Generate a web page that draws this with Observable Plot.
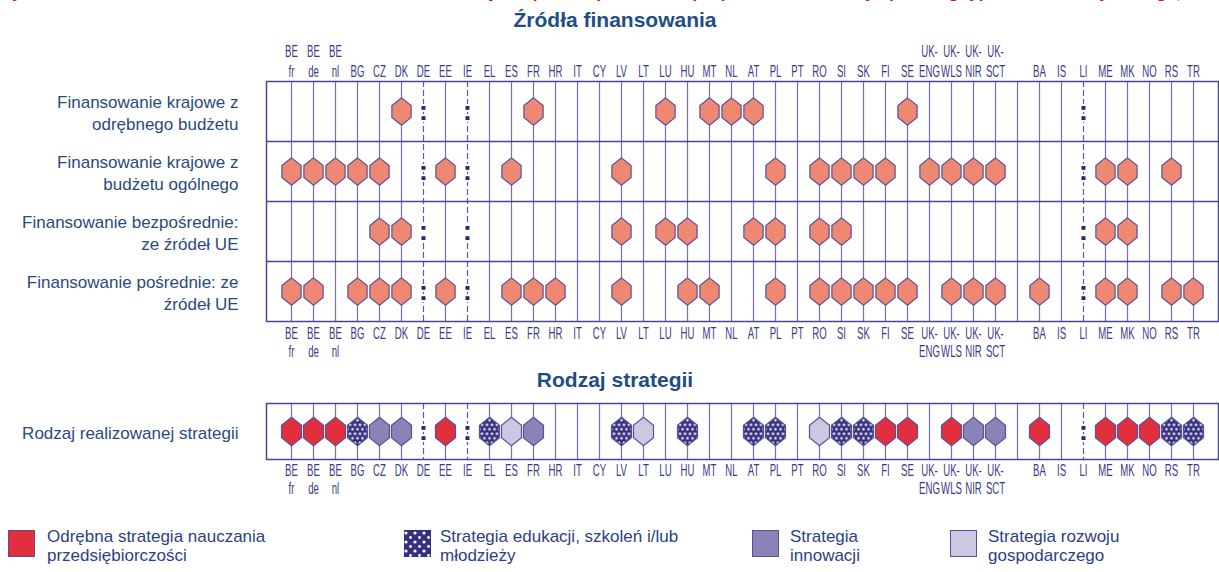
<!DOCTYPE html>
<html>
<head>
<meta charset="utf-8">
<script src="https://cdn.jsdelivr.net/npm/d3@7"></script>
<script src="https://cdn.jsdelivr.net/npm/@observablehq/plot@0.6"></script>
<style>
  html, body { margin: 0; padding: 0; background: #fff; }
  body { width: 1219px; height: 572px; position: relative; overflow: hidden; font-family: "Liberation Sans", Arial, sans-serif; }
  .abs { position: absolute; }
  .head { position: absolute; left: 0; width: 1230px; text-align: center; font-weight: bold; font-size: 21px; color: #1f4d85; }
  .redtitle { position: absolute; left: 0; top: -17px; white-space: nowrap; font-weight: bold; font-size: 17px; line-height: 20px; color: #d0101e; }
  .leg { position: absolute; top: 527px; font-size: 17px; line-height: 19px; color: #2c3f86; }
  .sw { position: absolute; top: 530px; width: 25px; height: 25px; border: 1px solid #5a4f96; }
</style>
</head>
<body>
<svg width="0" height="0" style="position:absolute">
  <defs>
    <pattern id="dots" patternUnits="userSpaceOnUse" width="5" height="9">
      <rect width="5" height="9" fill="#36307f"></rect>
      <circle cx="2.5" cy="2.25" r="1.2" fill="#fff"></circle>
      <circle cx="0" cy="6.75" r="1.2" fill="#fff"></circle>
      <circle cx="5" cy="6.75" r="1.2" fill="#fff"></circle>
    </pattern>
    <pattern id="dotsLegend" patternUnits="userSpaceOnUse" width="9" height="9">
      <rect width="9" height="9" fill="#36307f"></rect>
      <circle cx="2" cy="3" r="1.6" fill="#fff"></circle>
      <circle cx="6.5" cy="7.5" r="1.4" fill="#fff"></circle>
    </pattern>
  </defs>
</svg>
<div class="redtitle">Rysunek 3.4: Źródła finansowania działań w zakresie edukacji dla przedsiębiorczości (na poziomie centralnym) według typu realizowanej strategii, 2014/15</div>
<div class="head" style="top:8px">Źródła finansowania</div>
<div id="top" class="abs" style="top:38px;left:0"></div>
<div class="head" style="top:368px">Rodzaj strategii</div>
<div id="strat" class="abs" style="top:395px;left:0"></div>
<div id="legend"></div>
<script>
// ---------- DATA ----------
const countries = ["BE fr","BE de","BE nl","BG","CZ","DK","DE","EE","IE","EL","ES","FR","HR","IT","CY","LV","LT","LU","HU","MT","NL","AT","PL","PT","RO","SI","SK","FI","SE","UK-ENG","UK-WLS","UK-NIR","UK-SCT","gap","BA","IS","LI","ME","MK","NO","RS","TR"];
const tickLabels = ["BE\nfr","BE\nde","BE\nnl","BG","CZ","DK","DE","EE","IE","EL","ES","FR","HR","IT","CY","LV","LT","LU","HU","MT","NL","AT","PL","PT","RO","SI","SK","FI","SE","UK-\nENG","UK-\nWLS","UK-\nNIR","UK-\nSCT","","BA","IS","LI","ME","MK","NO","RS","TR"];
const notAvailable = ["DE","IE","LI"];

const fundingRows = [
  "Finansowanie krajowe z\nodrębnego budżetu",
  "Finansowanie krajowe z\nbudżetu ogólnego",
  "Finansowanie bezpośrednie:\nze źródeł UE",
  "Finansowanie pośrednie: ze\nźródeł UE"
];
const separateBudget = ["DK","FR","LU","MT","NL","AT","SE"];
const generalBudget = ["BE fr","BE de","BE nl","BG","CZ","EE","ES","LV","PL","RO","SI","SK","FI","UK-ENG","UK-WLS","UK-NIR","UK-SCT","ME","MK","RS"];
const euDirect = ["CZ","DK","LV","LU","HU","AT","PL","RO","SI","ME","MK"];
const euIndirect = ["BE fr","BE de","BG","CZ","DK","EE","ES","FR","HR","LV","HU","MT","PL","RO","SI","SK","FI","SE","UK-WLS","UK-NIR","UK-SCT","BA","ME","MK","RS","TR"];

const strategyRows = ["Rodzaj realizowanej strategii"];
const strategyTypes = [
  "Odrębna strategia nauczania przedsiębiorczości",
  "Strategia edukacji, szkoleń i/lub młodzieży",
  "Strategia innowacji",
  "Strategia rozwoju gospodarczego"
];
const legendLabels = [
  "Odrębna strategia nauczania<br>przedsiębiorczości",
  "Strategia edukacji, szkoleń i/lub<br>młodzieży",
  "Strategia<br>innowacji",
  "Strategia rozwoju<br>gospodarczego"
];
const strategyCountries = ["BE fr","BE de","BE nl","BG","CZ","DK","EE","EL","ES","FR","LV","LT","HU","AT","PL","RO","SI","SK","FI","SE","UK-WLS","UK-NIR","UK-SCT","BA","ME","MK","NO","RS","TR"];
const strategyTypeIndex = [0,0,0,1,2,2,0,1,3,2,1,3,1,1,1,3,1,1,0,0,0,2,2,0,0,0,0,1,1];

// ---------- STYLE ----------
const strategyFills = ["#e12f3d", "url(#dots)", "#8b82b8", "#cec7e1"];
const legendFills = ["#e12f3d", "url(#dotsLegend)", "#8b82b8", "#cec7e1"];
const salmon = "#ee8873";
const hexStroke = "#5a4f99";
const lineColor = "#5f57a2";
const frameColor = "#4d4592";
const tickColor = "#3b3889";
const rowLabelColor = "#2b4a7c";
const tickFont = "'Liberation Sans', Arial, sans-serif";

const hexagon = {
  draw(context, size) {
    const r = Math.sqrt(size / Math.PI);
    const hw = r, hh = r * 1.42, sh = r * 0.62;
    context.moveTo(0, -hh);
    context.lineTo(hw, -sh);
    context.lineTo(hw, sh);
    context.lineTo(0, hh);
    context.lineTo(-hw, sh);
    context.lineTo(-hw, -sh);
    context.closePath();
  }
};

const fmtX = d => tickLabels[countries.indexOf(d)];
const solidCols = countries.filter(c => !notAvailable.includes(c));

function gridMarks(rows, hexData, hexR, fillSpec) {
  const naCells = rows.flatMap((_, i) => notAvailable.map(c => ({country: c, row: i})));
  return [
    Plot.ruleX(solidCols, {x: d => d, stroke: lineColor, strokeWidth: 1.2, strokeOpacity: 0.85}),
    Plot.ruleX(notAvailable, {x: d => d, stroke: lineColor, strokeWidth: 1.2, strokeDasharray: "6,3"}),
    Plot.ruleY(d3.range(1, rows.length), {stroke: frameColor, strokeWidth: 1.3}),
    Plot.frame({stroke: frameColor, strokeWidth: 1.5}),
    Plot.text(naCells, {x: "country", y: d => d.row + 0.5, text: () => ":", fontSize: 28, fontWeight: "bold", fill: "#2a2676", stroke: "white", strokeWidth: 4, paintOrder: "stroke"}),
    Plot.dot(hexData, {x: "country", y: d => d.row + 0.5, symbol: hexagon, r: hexR, fill: fillSpec, stroke: hexStroke, strokeWidth: 1.2}),
    Plot.axisY({ticks: rows.map((_, i) => i + 0.5), tickFormat: v => rows[Math.floor(v)], tickSize: 0, tickPadding: 28, fontSize: 17, lineHeight: 1.3, fill: rowLabelColor, label: null})
  ];
}

// narrow the country labels so they fit in their columns, as in the condensed original
function condense(svg) {
  svg.querySelectorAll('g[aria-label="x-axis tick label"] text').forEach(t => {
    const tr = t.getAttribute("transform") || "";
    t.setAttribute("transform", tr + " scale(0.6,1)");
  });
}

// ---------- TOP PANEL ----------
const fundingData = [separateBudget, generalBudget, euDirect, euIndirect]
  .flatMap((list, i) => list.map(c => ({country: c, row: i})));

const topPlot = Plot.plot({
  width: 1219,
  height: 323,
  marginTop: 43,
  marginBottom: 40,
  marginLeft: 266,
  marginRight: 1,
  style: {fontFamily: "'Liberation Sans', Arial, sans-serif", background: "transparent", overflow: "visible"},
  x: {type: "band", domain: countries, padding: 0},
  y: {type: "linear", domain: [fundingRows.length, 0]},
  marks: [
    ...gridMarks(fundingRows, fundingData, 9.6, salmon),
    Plot.axisX({anchor: "top", tickSize: 0, tickPadding: 5, tickFormat: fmtX, fontSize: 16, lineHeight: 1.2, fontFamily: tickFont, fill: tickColor, label: null}),
    Plot.axisX({anchor: "bottom", tickSize: 0, tickPadding: 5, tickFormat: fmtX, fontSize: 16, lineHeight: 1.1, fontFamily: tickFont, fill: tickColor, label: null})
  ]
});
condense(topPlot);
document.getElementById("top").appendChild(topPlot);

// ---------- STRATEGY PANEL ----------
const strategyData = strategyCountries.map((c, i) => ({country: c, row: 0, type: strategyTypes[strategyTypeIndex[i]]}));

const stratPlot = Plot.plot({
  width: 1219,
  height: 102,
  marginTop: 8,
  marginBottom: 38,
  marginLeft: 266,
  marginRight: 1,
  style: {fontFamily: "'Liberation Sans', Arial, sans-serif", background: "transparent", overflow: "visible"},
  x: {type: "band", domain: countries, padding: 0},
  y: {type: "linear", domain: [strategyRows.length, 0]},
  color: {type: "ordinal", domain: strategyTypes, range: strategyFills},
  marks: [
    ...gridMarks(strategyRows, strategyData, 10, "type"),
    Plot.axisX({anchor: "bottom", tickSize: 0, tickPadding: 4, tickFormat: fmtX, fontSize: 16, lineHeight: 1.1, fontFamily: tickFont, fill: tickColor, label: null})
  ]
});
condense(stratPlot);
document.getElementById("strat").appendChild(stratPlot);

// ---------- LEGEND ----------
const legendSwatchX = [8, 404, 752, 950];
const legendTextX = [47, 440, 790, 988];
const legend = document.getElementById("legend");
strategyTypes.forEach((t, i) => {
  const sw = document.createElement("div");
  sw.className = "sw";
  sw.style.left = legendSwatchX[i] + "px";
  if (legendFills[i].startsWith("url")) {
    sw.style.border = "none";
    sw.innerHTML = `<svg width="27" height="27"><rect width="27" height="27" fill="${legendFills[i]}"></rect></svg>`;
  } else {
    sw.style.background = legendFills[i];
  }
  legend.appendChild(sw);
  const tx = document.createElement("div");
  tx.className = "leg";
  tx.style.left = legendTextX[i] + "px";
  tx.innerHTML = legendLabels[i];
  legend.appendChild(tx);
});
</script>
</body>
</html>
